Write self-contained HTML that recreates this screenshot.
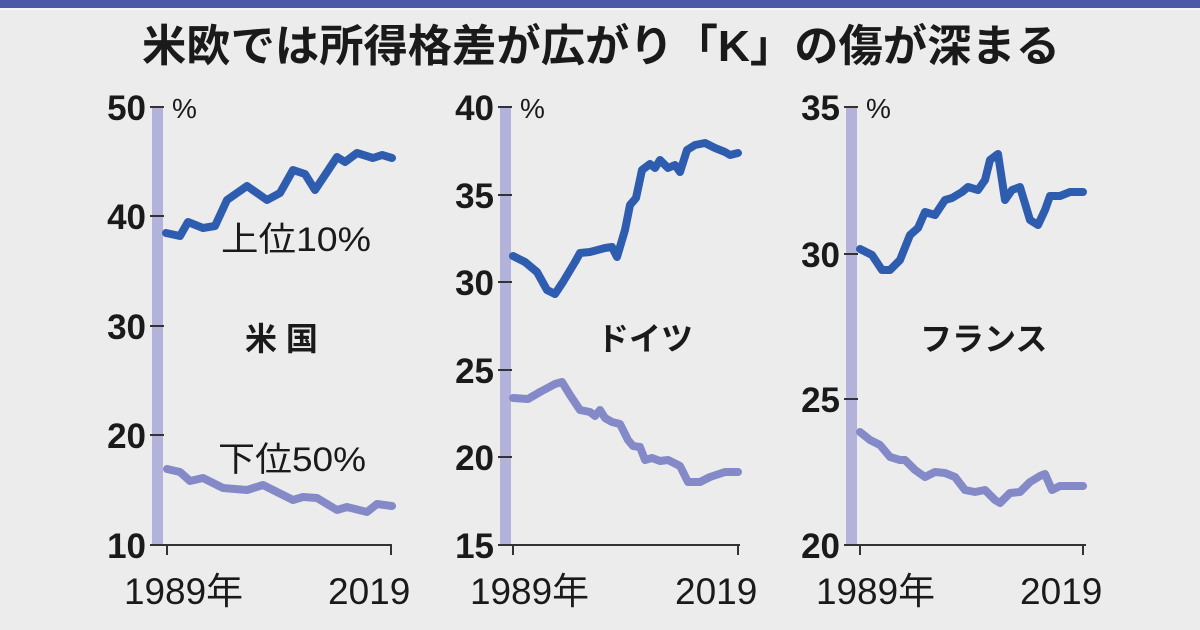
<!DOCTYPE html><html><head><meta charset="utf-8"><style>
body{margin:0;width:1200px;height:630px;background:#ececec;overflow:hidden}
svg{display:block}
text{font-family:"Liberation Sans","Noto Sans CJK JP",sans-serif;fill:#1a1a1a}
.n{font-size:35px;font-weight:bold;text-anchor:end}
.y{font-size:37px}
.l{font-size:34px}
.b{font-size:32px;font-weight:bold}
.p{font-size:28px}
.t{stroke:#2e5db0;stroke-width:8;fill:none;stroke-linejoin:round;stroke-linecap:round}
.m{stroke:#8489c8;stroke-width:8;fill:none;stroke-linejoin:round;stroke-linecap:round}
.ax{stroke:#333;stroke-width:2;fill:none}
</style></head><body>
<svg width="1200" height="630" viewBox="0 0 1200 630">
<rect x="0" y="0" width="1200" height="8" fill="#4a5aa8"/>
<rect x="0" y="8" width="1200" height="2" fill="#f6f6f6"/>
<text x="142" y="61" textLength="918" lengthAdjust="spacingAndGlyphs" style="font-size:44px;font-weight:bold">米欧では所得格差が広がり「K」の傷が深まる</text>

<!-- US -->
<rect x="152" y="108" width="11" height="437" fill="#b2b2da"/>
<path class="ax" d="M150 107h14M150 216h14M150 326h14M150 435h14M150 545h242M167 545v10M391 545v10"/>
<text class="n" x="146" y="120">50</text><text class="n" x="146" y="229">40</text><text class="n" x="146" y="339">30</text><text class="n" x="146" y="448">20</text><text class="n" x="146" y="558">10</text>
<text class="p" x="172" y="118">%</text>
<polyline class="t" points="166,233 180,236 188,222 203,228 215,226 227,200 247,186 267,200 280,193 293,170 305,174 315,190 337,157 345,162 357,153 373,158 382,155 392,158"/>
<polyline class="m" points="167,469 180,472 190,481 203,478 223,488 247,490 263,485 293,500 303,497 317,498 337,510 347,507 367,512 377,504 392,506"/>
<text class="l" x="221" y="251" textLength="150" lengthAdjust="spacingAndGlyphs">上位10%</text>
<text class="b" x="245" y="350">米 国</text>
<text class="l" x="218" y="471" textLength="148" lengthAdjust="spacingAndGlyphs">下位50%</text>
<text class="y" x="124" y="604" textLength="119" lengthAdjust="spacingAndGlyphs">1989年</text><text class="y" x="328" y="604">2019</text>

<!-- Germany -->
<rect x="500" y="108" width="11" height="437" fill="#b2b2da"/>
<path class="ax" d="M498 107h14M498 195h14M498 282h14M498 370h14M498 457h14M498 545h242M513 545v10M738 545v10"/>
<text class="n" x="494" y="120">40</text><text class="n" x="494" y="208">35</text><text class="n" x="494" y="295">30</text><text class="n" x="494" y="383">25</text><text class="n" x="494" y="470">20</text><text class="n" x="494" y="558">15</text>
<text class="p" x="520" y="118">%</text>
<polyline class="t" points="513,256 525,262 537,272 547,290 555,294 563,282 575,262 580,253 590,252 605,248 612,247 617,257 625,230 630,205 636,198 642,170 650,164 655,168 660,160 668,168 675,165 680,172 687,150 695,145 705,143 715,148 725,152 730,155 738,153"/>
<polyline class="m" points="513,398 528,399 540,392 555,384 562,382 570,395 580,410 590,412 595,416 600,410 605,418 612,422 620,424 628,440 633,446 640,447 645,460 652,458 660,461 668,460 680,466 688,482 700,482 710,477 725,472 738,472"/>
<text class="b" x="597" y="350">ドイツ</text>
<text class="y" x="470" y="604" textLength="119" lengthAdjust="spacingAndGlyphs">1989年</text><text class="y" x="675" y="604">2019</text>

<!-- France -->
<rect x="846" y="108" width="11" height="437" fill="#b2b2da"/>
<path class="ax" d="M844 107h14M844 254h14M844 399h14M844 545h242M860 545v10M1083 545v10"/>
<text class="n" x="840" y="120">35</text><text class="n" x="840" y="267">30</text><text class="n" x="840" y="412">25</text><text class="n" x="840" y="558">20</text>
<text class="p" x="866" y="118">%</text>
<polyline class="t" points="860,249 872,255 882,270 890,270 900,260 910,235 918,228 925,212 935,215 945,200 952,198 962,192 968,187 978,190 985,180 990,160 998,154 1005,200 1012,190 1020,187 1030,220 1038,225 1045,210 1050,196 1060,196 1070,192 1083,192"/>
<polyline class="m" points="860,432 870,440 880,445 890,457 900,460 905,460 915,470 925,477 935,472 945,473 955,477 965,490 975,492 985,490 995,500 1000,503 1010,493 1020,492 1030,482 1040,476 1045,474 1052,490 1060,486 1083,486"/>
<text class="b" x="920" y="350">フランス</text>
<text class="y" x="816" y="604" textLength="119" lengthAdjust="spacingAndGlyphs">1989年</text><text class="y" x="1020" y="604">2019</text>
</svg></body></html>
